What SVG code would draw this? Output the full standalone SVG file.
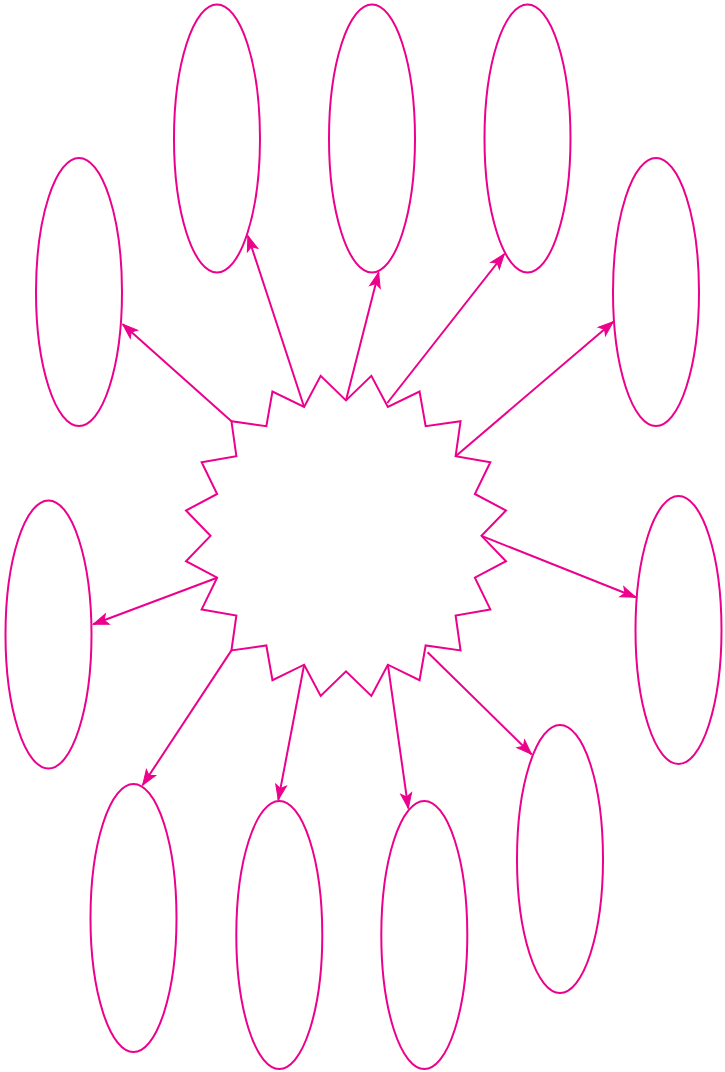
<svg xmlns="http://www.w3.org/2000/svg" width="725" height="1072" viewBox="0 0 725 1072">
<style>
.n{fill:#fff;stroke:#EC008C;stroke-width:2}
.c{fill:none;stroke:#EC008C;stroke-width:2;marker-end:url(#ah)}
</style>
<defs>
<marker id="ah" markerUnits="userSpaceOnUse" viewBox="0 0 16 12" markerWidth="16" markerHeight="12" refX="15" refY="6" orient="auto" overflow="visible">
<path d="M0,0.5 L15,6 L0,11.5 L3.5,6 Z" fill="#EC008C" stroke="#EC008C" stroke-width="1" stroke-linejoin="miter"/>
</marker>
</defs>
<rect width="725" height="1072" fill="#fff"/>
<g id="center">
<polygon class="n" points="346,400.35 371.34,375.85 387.87,406.98 419.55,391.51 425.65,426.23 460.55,421.3 455.62,456.2 490.34,462.3 474.87,493.98 506,510.51 481.5,535.85 506,561.19 474.87,577.72 490.34,609.4 455.62,615.5 460.55,650.4 425.65,645.47 419.55,680.19 387.87,664.72 371.34,695.85 346,671.35 320.66,695.85 304.13,664.72 272.45,680.19 266.35,645.47 231.45,650.4 236.38,615.5 201.66,609.4 217.13,577.72 186,561.19 210.5,535.85 186,510.51 217.13,493.98 201.66,462.3 236.38,456.2 231.45,421.3 266.35,426.23 272.45,391.51 304.13,406.98 320.66,375.85"/>
</g>
<g id="n1"><ellipse class="n" cx="79" cy="292" rx="43" ry="134"/></g>
<g id="n2"><ellipse class="n" cx="217" cy="138.5" rx="43" ry="134"/></g>
<g id="n3"><ellipse class="n" cx="372" cy="138.5" rx="43" ry="134"/></g>
<g id="n4"><ellipse class="n" cx="527.5" cy="138.5" rx="43" ry="134"/></g>
<g id="n5"><ellipse class="n" cx="656" cy="292" rx="43" ry="134"/></g>
<g id="n6"><ellipse class="n" cx="678.5" cy="630" rx="43" ry="134"/></g>
<g id="n7"><ellipse class="n" cx="560" cy="859" rx="43" ry="134"/></g>
<g id="n8"><ellipse class="n" cx="424.3" cy="935" rx="43" ry="134"/></g>
<g id="n9"><ellipse class="n" cx="279.3" cy="935" rx="43" ry="134"/></g>
<g id="n10"><ellipse class="n" cx="133.5" cy="918" rx="43" ry="134"/></g>
<g id="n11"><ellipse class="n" cx="48.5" cy="634.5" rx="43" ry="134"/></g>
<g id="connectors">
<path class="c" d="M231.45,421.3 L122.7,324.3"/>
<path class="c" d="M304.13,406.98 L247.9,235.8"/>
<path class="c" d="M346,400.35 L378.6,272.5"/>
<path class="c" d="M387.3,403 L504.3,254"/>
<path class="c" d="M455.62,456.2 L613.3,321.7"/>
<path class="c" d="M481.5,535.85 L635.7,597.3"/>
<path class="c" d="M427.6,652.2 L531.5,754.3"/>
<path class="c" d="M387.87,664.72 L408.3,808.3"/>
<path class="c" d="M304.13,664.72 L278.3,799.8"/>
<path class="c" d="M231.45,650.4 L142.7,785"/>
<path class="c" d="M217.13,577.72 L93.3,624.3"/>
</g>
</svg>
